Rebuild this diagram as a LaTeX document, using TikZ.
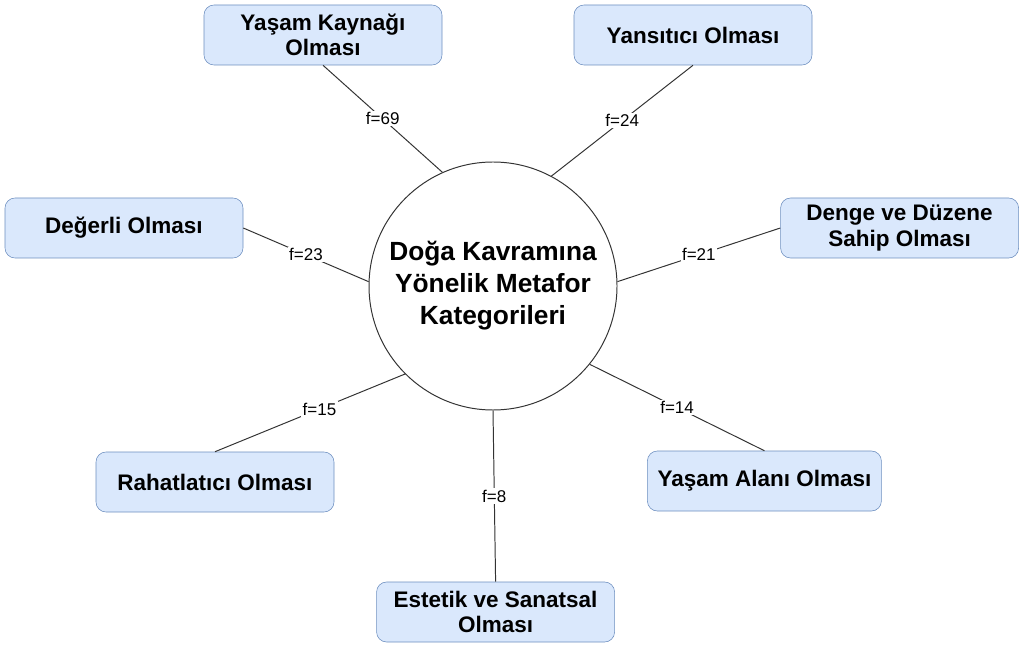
\documentclass[tikz,border=0pt]{standalone}
\usepackage{fontspec}
\setmainfont{Liberation Sans}
\definecolor{boxfill}{HTML}{DAE8FC}
\definecolor{boxline}{HTML}{6C8EBF}
\begin{document}
\begin{tikzpicture}[
		kat/.style={draw=boxline,fill=boxfill,rounded corners=0.25cm,minimum width=5.95cm,minimum height=1.5cm,align=center,font=\fontsize{16}{18}\selectfont\bfseries},
		link/.style={draw=black!80,line width=0.7pt},
		flabel/.style={fill=white,inner sep=1pt,font=\fontsize{12.1}{14}\selectfont}]
		\useasboundingbox (0,0) rectangle (25.55,16.1);
		\node [circle,draw=black!80,line width=0.7pt,minimum size=6.2cm,inner sep=0,align=center,font=\fontsize{18.7}{22.8}\selectfont\bfseries] (mycenter) at (12.325,8.95) {Doğa Kavramına\\Yönelik Metafor\\Kategorileri};
		\node [kat] (m1) at (8.075,15.225) {Yaşam Kaynağı\\Olması};
		\node [kat] (m2) at (17.325,15.225) {Yansıtıcı Olması};
		\node [kat] (m3) at (3.1,10.4) {Değerli Olması};
		\node [kat] (m4) at (22.49,10.4) {Denge ve Düzene\\Sahip Olması};
		\node [kat] (m5) at (5.375,4.05) {Rahatlatıcı Olması};
		\node [kat,minimum width=5.85cm] (m6) at (19.11,4.075) {Yaşam Alanı Olması};
		\node [kat] (m7) at (12.39,0.8) {Estetik ve Sanatsal\\Olması};
		\draw [link] (m1.south)--(mycenter.114) node[midway,flabel]{f=69};
		\draw [link] (m2.south)--(mycenter.62) node[midway,flabel]{f=24};
		\draw [link] (m3.east)--(mycenter.178) node[midway,flabel]{f=23};
		\draw [link] (m4.west)--(mycenter.2) node[midway,flabel]{f=21};
		\draw [link] (m5.north)--(mycenter.225) node[pos=0.55,flabel]{f=15};
		\draw [link] (m6.north)--(mycenter.-39) node[midway,flabel]{f=14};
		\draw [link] (m7.north)--(mycenter.-90) node[midway,flabel]{f=8};
	\end{tikzpicture}
\end{document}
